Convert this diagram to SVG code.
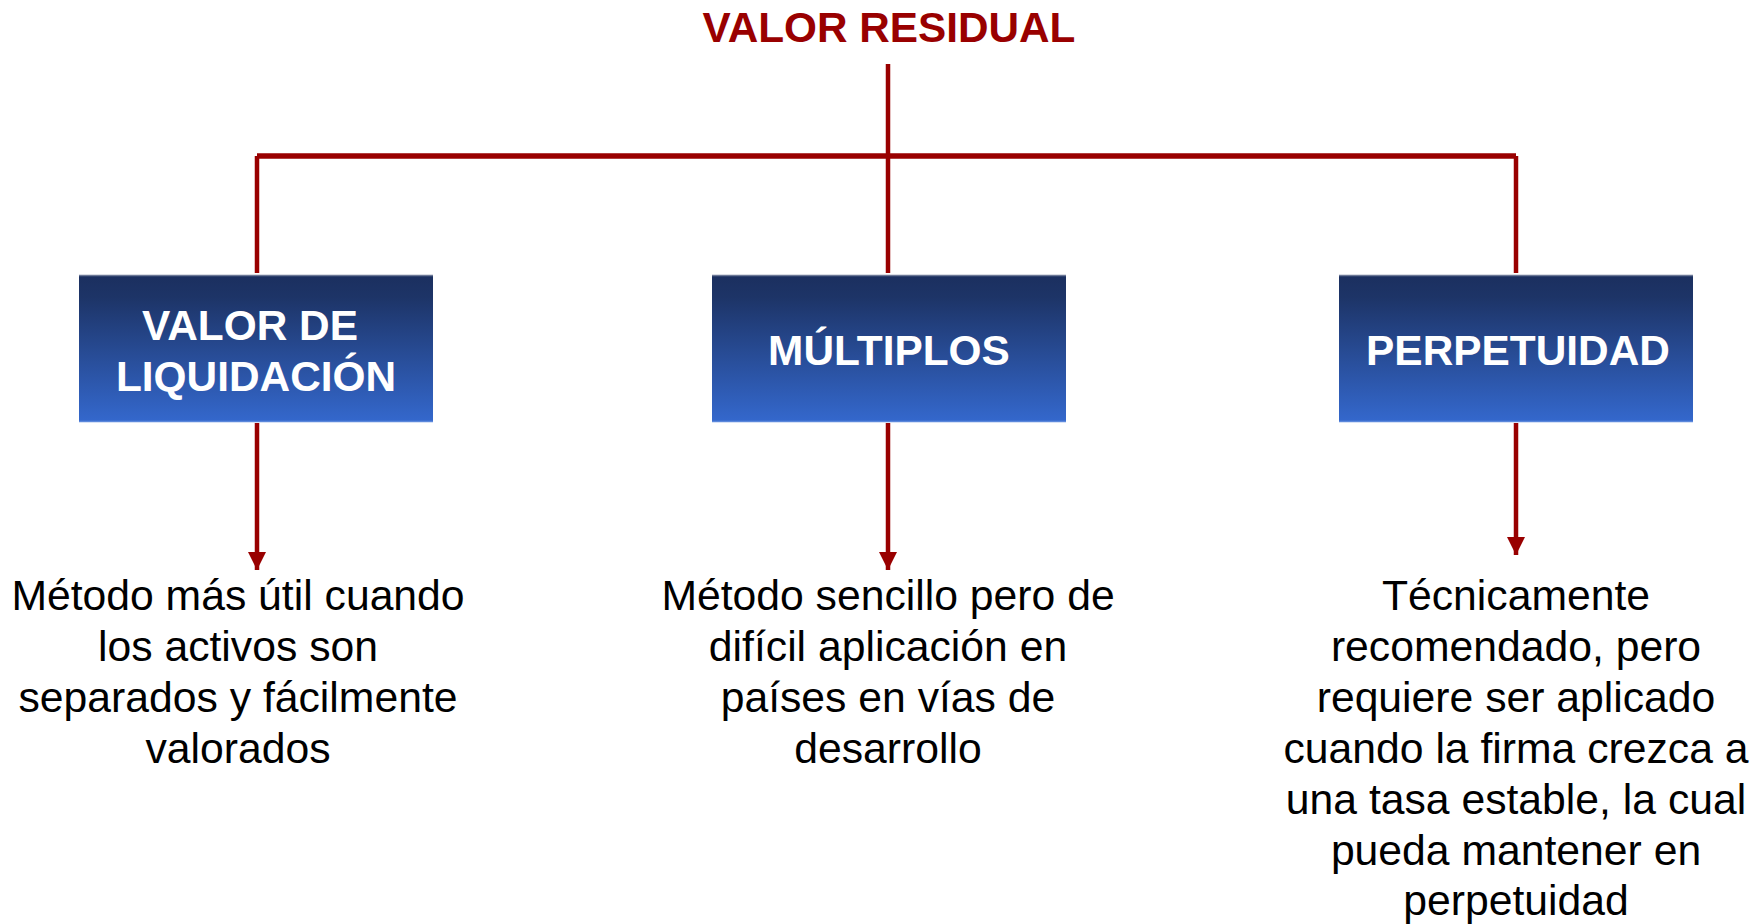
<svg xmlns="http://www.w3.org/2000/svg" width="1762" height="924" viewBox="0 0 1762 924">
<defs>
<linearGradient id="boxg" x1="0" y1="0" x2="0" y2="1">
<stop offset="0" stop-color="#1b2f5f"/>
<stop offset="0.15" stop-color="#1d3467"/>
<stop offset="1" stop-color="#3468cd"/>
</linearGradient>
<marker id="arr" viewBox="0 0 18 18" refX="18" refY="9" markerUnits="userSpaceOnUse" markerWidth="18" markerHeight="18" orient="auto">
<path d="M0,0 L18,9 L0,18 Z" fill="#990000"/>
</marker>
<style>
.title{font-family:"Liberation Sans",Arial,sans-serif;font-weight:bold;font-size:42.3px;fill:#990000;text-anchor:middle}
.box{fill:url(#boxg)}
.edgeT{stroke:#6c7896;stroke-width:1.5}
.edgeB{stroke:#5b88dc;stroke-width:1.5}
.btxt{font-family:"Liberation Sans",Arial,sans-serif;font-weight:bold;font-size:42.4px;fill:#ffffff;text-anchor:middle}
.desc{font-family:"Liberation Sans",Arial,sans-serif;font-size:42.7px;fill:#000000;text-anchor:middle}
.ln{stroke:#990000;stroke-width:4.5;fill:none}
.bar{stroke:#990000;stroke-width:5.5;fill:none}
</style>
</defs>
<rect width="1762" height="924" fill="#ffffff"/>

<g id="title">
<text class="title" x="889" y="42">VALOR RESIDUAL</text>
</g>

<g id="connectors">
<line class="ln" x1="888" y1="64" x2="888" y2="273"/>
<line class="bar" x1="257" y1="156" x2="1516" y2="156"/>
<line class="ln" x1="257" y1="156" x2="257" y2="273"/>
<line class="ln" x1="1516" y1="156" x2="1516" y2="273"/>
<line class="ln" x1="257" y1="423" x2="257" y2="570" marker-end="url(#arr)"/>
<line class="ln" x1="888" y1="423" x2="888" y2="570" marker-end="url(#arr)"/>
<line class="ln" x1="1516" y1="423" x2="1516" y2="555" marker-end="url(#arr)"/>
</g>

<g id="node-liquidacion">
<rect class="box" x="79" y="275" width="354" height="147"/>
<line class="edgeT" x1="79" y1="275.5" x2="433" y2="275.5"/>
<line class="edgeB" x1="79" y1="421.5" x2="433" y2="421.5"/>
<text class="btxt" x="250" y="340">VALOR DE</text>
<text class="btxt" x="256" y="391">LIQUIDACIÓN</text>
</g>

<g id="node-multiplos">
<rect class="box" x="712" y="275" width="354" height="147"/>
<line class="edgeT" x1="712" y1="275.5" x2="1066" y2="275.5"/>
<line class="edgeB" x1="712" y1="421.5" x2="1066" y2="421.5"/>
<text class="btxt" x="889" y="365">MÚLTIPLOS</text>
</g>

<g id="node-perpetuidad">
<rect class="box" x="1339" y="275" width="354" height="147"/>
<line class="edgeT" x1="1339" y1="275.5" x2="1693" y2="275.5"/>
<line class="edgeB" x1="1339" y1="421.5" x2="1693" y2="421.5"/>
<text class="btxt" x="1518" y="365">PERPETUIDAD</text>
</g>

<g id="desc-liquidacion">
<text class="desc" x="238" y="610">Método más útil cuando</text>
<text class="desc" x="238" y="661">los activos son</text>
<text class="desc" x="238" y="712">separados y fácilmente</text>
<text class="desc" x="238" y="763">valorados</text>
</g>

<g id="desc-multiplos">
<text class="desc" x="888" y="610">Método sencillo pero de</text>
<text class="desc" x="888" y="661">difícil aplicación en</text>
<text class="desc" x="888" y="712">países en vías de</text>
<text class="desc" x="888" y="763">desarrollo</text>
</g>

<g id="desc-perpetuidad">
<text class="desc" x="1516" y="610">Técnicamente</text>
<text class="desc" x="1516" y="661">recomendado, pero</text>
<text class="desc" x="1516" y="712">requiere ser aplicado</text>
<text class="desc" x="1516" y="763">cuando la firma crezca a</text>
<text class="desc" x="1516" y="814">una tasa estable, la cual</text>
<text class="desc" x="1516" y="865">pueda mantener en</text>
<text class="desc" x="1516" y="915">perpetuidad</text>
</g>
</svg>
